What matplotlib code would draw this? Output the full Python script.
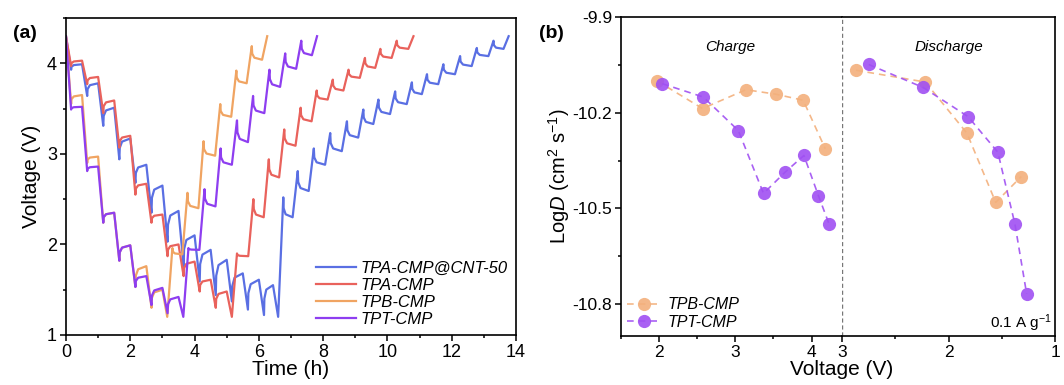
import matplotlib
matplotlib.use('Agg')
import matplotlib.pyplot as plt
from matplotlib.ticker import MultipleLocator

plt.rcParams['font.family'] = ['Liberation Sans', 'DejaVu Sans']
plt.rcParams['mathtext.fontset'] = 'custom'
plt.rcParams['mathtext.rm'] = 'Liberation Sans'
plt.rcParams['mathtext.it'] = 'Liberation Sans:italic'
plt.rcParams['mathtext.default'] = 'regular'
plt.rcParams['axes.unicode_minus'] = False

# ---------------- (a) GITT: pulse start (h), voltage at pulse end, relaxed voltage (V)
cnt_start = [0, 0.5, 1.0, 1.5, 2.0, 2.5, 3.0, 3.5, 4.0, 4.5, 5.0, 5.5, 6.0, 6.44,
             6.6, 7.05, 7.55, 8.06, 8.58, 9.09, 9.56, 10.08, 10.6, 11.07, 11.58, 12.1, 12.62, 13.14, 13.61]
cnt_pulse = [3.93, 3.64, 3.31, 2.94, 2.68, 2.35, 2.03, 1.76, 1.59, 1.44, 1.37, 1.28, 1.22, 1.2,
             2.52, 2.81, 3.06, 3.23, 3.36, 3.49, 3.6, 3.69, 3.79, 3.88, 3.99, 4.08, 4.17, 4.25, 4.3]
cnt_rest = [3.99, 3.78, 3.51, 3.17, 2.88, 2.65, 2.37, 2.1, 1.94, 1.83, 1.68, 1.61, 1.55, None,
            2.3, 2.59, 2.88, 3.03, 3.18, 3.33, 3.44, 3.55, 3.66, 3.77, 3.88, 3.97, 4.08, 4.16, None]

tpa_start = [0, 0.5, 1.0, 1.5, 2.0, 2.5, 3.0, 3.5, 4.0, 4.5, 5.0,
             5.16, 5.67, 6.15, 6.63, 7.14, 7.64, 8.14, 8.63, 9.14, 9.62, 10.13, 10.65]
tpa_pulse = [3.97, 3.77, 3.45, 3.07, 2.55, 2.24, 1.87, 1.65, 1.48, 1.3, 1.2,
             1.9, 2.5, 2.94, 3.27, 3.51, 3.7, 3.82, 3.93, 4.06, 4.16, 4.25, 4.3]
tpa_rest = [4.03, 3.85, 3.59, 3.2, 2.67, 2.33, 2.0, 1.81, 1.61, 1.48, None,
            1.87, 2.3, 2.74, 3.09, 3.36, 3.6, 3.7, 3.84, 3.95, 4.06, 4.16, None]

tpb_start = [0, 0.5, 1.0, 1.5, 2.0, 2.5, 3.0, 3.15, 3.62, 4.12, 4.64, 5.14, 5.62, 6.1]
tpb_pulse = [3.55, 2.9, 2.24, 1.82, 1.53, 1.3, 1.2, 1.96, 2.57, 3.14, 3.55, 3.92, 4.19, 4.3]
tpb_rest = [3.65, 2.97, 2.35, 1.99, 1.76, 1.5, None, 1.89, 2.4, 2.98, 3.41, 3.78, 4.04, None]

tpt_start = [0, 0.5, 1.0, 1.5, 2.0, 2.5, 3.0, 3.5, 3.65, 4.15, 4.65, 5.16, 5.66, 6.17, 6.66, 7.16, 7.65]
tpt_pulse = [3.49, 2.81, 2.24, 1.82, 1.53, 1.33, 1.24, 1.2, 1.96, 2.61, 3.06, 3.37, 3.64, 3.93, 4.11, 4.25, 4.3]
tpt_rest = [3.52, 2.86, 2.35, 1.99, 1.65, 1.52, 1.42, None, 1.94, 2.42, 2.88, 3.13, 3.45, 3.74, 3.94, 4.09, None]

labels_a = ['TPA-CMP@CNT-50', 'TPA-CMP', 'TPB-CMP', 'TPT-CMP']
colors_a = ['#5a6fe3', '#e9625c', '#f0a462', '#8e3ef0']

# ---------------- (b) log D vs voltage
tpb_chg_v = [1.97, 2.57, 3.14, 3.53, 3.89, 4.18]
tpb_chg_d = [-10.10, -10.187, -10.128, -10.142, -10.161, -10.313]
tpt_chg_v = [2.04, 2.58, 3.04, 3.37, 3.65, 3.90, 4.09, 4.23]
tpt_chg_d = [-10.109, -10.151, -10.256, -10.453, -10.387, -10.334, -10.46, -10.549]
tpb_dis_v = [2.87, 2.22, 1.83, 1.56, 1.32]
tpb_dis_d = [-10.067, -10.104, -10.264, -10.481, -10.40]
tpt_dis_v = [2.75, 2.24, 1.82, 1.54, 1.38, 1.27]
tpt_dis_d = [-10.049, -10.121, -10.212, -10.324, -10.549, -10.768]


def gitt_curve(starts, pulse, rest, v0=4.3, dp=0.16):
    t, v = [starts[0]], [v0]
    for i, ts in enumerate(starts):
        te = ts + dp
        if i + 1 < len(starts):
            te = min(te, starts[i + 1])
        t.append(te)
        v.append(pulse[i])
        if rest[i] is not None:
            tn = starts[i + 1]
            dv = rest[i] - pulse[i]
            for f, g in ((0.04, 0.55), (0.25, 0.85)):
                t.append(te + f * (tn - te))
                v.append(pulse[i] + g * dv)
            t.append(tn)
            v.append(rest[i])
    return t, v


def style_ax(ax):
    for s in ax.spines.values():
        s.set_linewidth(1.2)
    ax.tick_params(which='both', direction='out', width=1.1)
    ax.tick_params(which='major', length=4.5)
    ax.tick_params(which='minor', length=2.5)


fig = plt.figure(figsize=(10.64, 3.85), dpi=100)

# ---- panel (a)
ax = fig.add_axes([0.062, 0.130, 0.423, 0.823])
curves = [(cnt_start, cnt_pulse, cnt_rest), (tpa_start, tpa_pulse, tpa_rest),
          (tpb_start, tpb_pulse, tpb_rest), (tpt_start, tpt_pulse, tpt_rest)]
for (s, p, r), lab, c in zip(curves, labels_a, colors_a):
    t, v = gitt_curve(s, p, r)
    ax.plot(t, v, color=c, lw=1.6, label=lab)
ax.set_xlim(0, 14)
ax.set_ylim(1, 4.5)
ax.xaxis.set_major_locator(MultipleLocator(2))
ax.xaxis.set_minor_locator(MultipleLocator(1))
ax.yaxis.set_major_locator(MultipleLocator(1))
ax.yaxis.set_minor_locator(MultipleLocator(0.5))
style_ax(ax)
ax.tick_params(labelsize=13, pad=2)
ax.set_xlabel('Time (h)', fontsize=15, labelpad=-1)
ax.set_ylabel('Voltage (V)', fontsize=15, labelpad=4)
ax.legend(loc='lower right', frameon=False, prop={'style': 'italic', 'size': 12},
          handlelength=2.35, handletextpad=0.3, labelspacing=0.12,
          borderaxespad=0.3, borderpad=0.2)
fig.text(0.012, 0.9, '(a)', fontsize=14, fontweight='bold')

# ---- panel (b): charge (left) and discharge (right)
axc = fig.add_axes([0.5836, 0.127, 0.2078, 0.829])
axd = fig.add_axes([0.7914, 0.127, 0.2006, 0.829], sharey=axc)

mk = dict(marker='o', ms=9.5, mec='none', lw=1.2)
axc.plot(tpb_chg_v, tpb_chg_d, ls=(0, (4, 3)), color='#f3b07c', alpha=0.9, label='TPB-CMP', **mk)
axc.plot(tpt_chg_v, tpt_chg_d, ls=(0, (4, 3)), color='#a050f2', alpha=0.9, label='TPT-CMP', **mk)
axd.plot(tpb_dis_v, tpb_dis_d, ls=(0, (4, 3)), color='#f3b07c', alpha=0.9, **mk)
axd.plot(tpt_dis_v, tpt_dis_d, ls=(0, (4, 3)), color='#a050f2', alpha=0.9, **mk)

axc.set_xlim(1.5, 4.4)
axd.set_xlim(3, 1)
axc.set_ylim(-10.9, -9.9)
axc.set_yticks([-9.9, -10.2, -10.5, -10.8])
axc.set_yticklabels(['-9.9', '-10.2', '-10.5', '-10.8'])
axc.yaxis.set_minor_locator(MultipleLocator(0.15))
axc.set_xticks([2, 3, 4])
axc.xaxis.set_minor_locator(MultipleLocator(0.5))
axd.set_xticks([3, 2, 1])
axd.xaxis.set_minor_locator(MultipleLocator(0.5))
for a in (axc, axd):
    style_ax(a)
    a.tick_params(labelsize=12.5, pad=2)
axc.spines['right'].set_visible(False)
axd.spines['left'].set_visible(False)
axd.tick_params(axis='y', which='both', left=False, labelleft=False)
axd.axvline(3, color='#777777', lw=1.0, ls=(0, (3, 2)))

axc.set_ylabel(r'Log$\mathit{D}$ (cm$^{2}$ s$^{-1}$)', fontsize=14.5, labelpad=0)
fig.text(0.7914, 0.025, 'Voltage (V)', fontsize=15, ha='center')
axc.text(0.493, 0.905, 'Charge', transform=axc.transAxes, ha='center', va='center',
         fontsize=11, style='italic')
axd.text(0.5, 0.905, 'Discharge', transform=axd.transAxes, ha='center', va='center',
         fontsize=11, style='italic')
axd.text(0.985, 0.025, '0.1 A g$^{-1}$', transform=axd.transAxes, ha='right', va='baseline',
         fontsize=11)
axc.legend(loc='lower left', frameon=False, prop={'style': 'italic', 'size': 11.5},
           handlelength=2.1, handletextpad=0.4, labelspacing=0.15,
           borderaxespad=0.2, borderpad=0.2)
fig.text(0.507, 0.9, '(b)', fontsize=14, fontweight='bold')

fig.savefig('out.png', dpi=100)
